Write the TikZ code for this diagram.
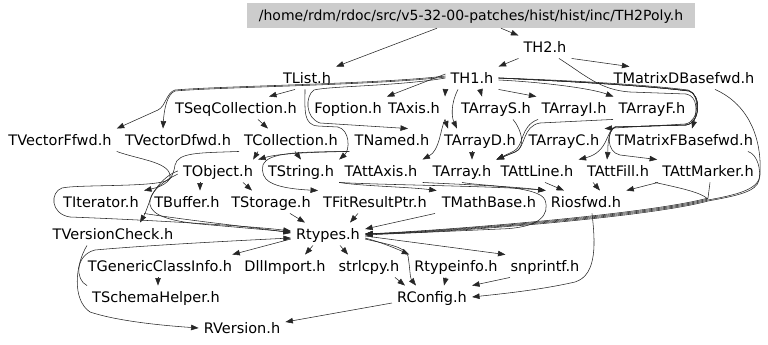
\documentclass[tikz,border=0pt]{standalone}
\usepackage{fontspec}
\setmainfont{DejaVu Sans}
\usetikzlibrary{positioning}
\usetikzlibrary{arrows.meta}

\begin{document}
\begin{tikzpicture}[x=1pt, y=-1pt,
    hdr/.style={inner xsep=5pt, inner ysep=6pt, text height=10.5pt, text depth=0pt,
      font=\fontsize{14.5}{17}\selectfont},
    inc/.style={draw=black!85, line width=.55pt, -{Triangle[length=7.5pt,width=5.5pt]}}]
  \useasboundingbox (0,0) rectangle (768,345);

  % the header itself
  \node[hdr, fill=black!20, minimum width=448pt, minimum height=25pt,
    font=\fontsize{14}{17}\selectfont] (root) at (471,15.5)
    {/home/rdm/rdoc/src/v5-32-00-patches/hist/hist/inc/TH2Poly.h};

  % included headers, row by row
  \node[hdr] (th2)   at (545,47)  {TH2.h};
  \node[hdr] (tlist) at (307,78)  {TList.h};
  \node[hdr] (th1)   at (472,78)  {TH1.h};
  \node[hdr] (tmatd) at (684,78)  {TMatrixDBasefwd.h};

  \node[hdr] (tseq)    at (236,108) {TSeqCollection.h};
  \node[hdr] (foption) at (348,108) {Foption.h};
  \node[hdr] (taxis)   at (414,108) {TAxis.h};
  \node[hdr] (tarrs)   at (496,108) {TArrayS.h};
  \node[hdr] (tarri)   at (574,108) {TArrayI.h};
  \node[hdr] (tarrf)   at (652,108) {TArrayF.h};

  \node[hdr] (tvecf)  at (60,140)  {TVectorFfwd.h};
  \node[hdr] (tvecd)  at (178,140) {TVectorDfwd.h};
  \node[hdr] (tcoll)  at (291,140) {TCollection.h};
  \node[hdr] (tnamed) at (392,140) {TNamed.h};
  \node[hdr] (tarrd)  at (480,140) {TArrayD.h};
  \node[hdr] (tarrc)  at (564,140) {TArrayC.h};
  \node[hdr] (tmatf)  at (684,140) {TMatrixFBasefwd.h};

  \node[hdr] (tobject)    at (218,171) {TObject.h};
  \node[hdr] (tstring)    at (301,171) {TString.h};
  \node[hdr] (tattaxis)   at (381,171) {TAttAxis.h};
  \node[hdr] (tarray)     at (462,171) {TArray.h};
  \node[hdr] (tattline)   at (537,171) {TAttLine.h};
  \node[hdr] (tattfill)   at (618,171) {TAttFill.h};
  \node[hdr] (tattmarker) at (708,171) {TAttMarker.h};

  \node[hdr] (titer)     at (101,202) {TIterator.h};
  \node[hdr] (tbuffer)   at (187,202) {TBuffer.h};
  \node[hdr] (tstorage)  at (271,202) {TStorage.h};
  \node[hdr] (tfitres)   at (375,202) {TFitResultPtr.h};
  \node[hdr] (tmathbase) at (489,202) {TMathBase.h};
  \node[hdr] (riosfwd)   at (586,202) {Riosfwd.h};

  \node[hdr] (tvercheck) at (113,234) {TVersionCheck.h};
  \node[hdr] (rtypes)    at (328,234) {Rtypes.h};

  \node[hdr] (tgeneric)  at (160,266) {TGenericClassInfo.h};
  \node[hdr] (dllimport) at (285,266) {DllImport.h};
  \node[hdr] (strlcpy)   at (369,266) {strlcpy.h};
  \node[hdr] (rtypeinfo) at (456,266) {Rtypeinfo.h};
  \node[hdr] (snprintf)  at (545,266) {snprintf.h};

  \node[hdr] (tschema)  at (156,297) {TSchemaHelper.h};
  \node[hdr] (rconfig)  at (432,297) {RConfig.h};
  \node[hdr] (rversion) at (242,328) {RVersion.h};

  % top levels
  \draw[inc] ([xshift=-34pt]root.south) -- (tlist.north east);
  \draw[inc] ([xshift=30pt]root.south) -- (th2.north west);
  \draw[inc] (th2.south west) -- (th1.north east);
  \draw[inc] (th2.south east) -- ([xshift=21pt]tmatd.north west);
  \draw[inc] ([xshift=14pt]th2.south) .. controls (585,75) and (600,90) .. (630,92)
    -- (686,94) .. controls (698,96) and (697,112) .. ([xshift=8pt]tmatf.north);

  % TH1.h
  \draw[inc] (th1.south west) -- (taxis.north east);
  \draw[inc] ([xshift=8pt]th1.south) -- ([xshift=-14pt]tarrs.north);
  \draw[inc] (th1.south east) -- (tarri.north west);
  \draw[inc] ([yshift=-2pt]th1.east) .. controls (540,82) and (590,88) .. (tarrf.north west);
  \draw[inc] (th1.east) .. controls (560,80) and (640,84) .. (688,90)
    .. controls (700,93) and (700,122) .. (685,124) -- (tarrc.north east);
  \draw[inc] (th1.east) .. controls (560,81) and (640,85) .. (689,91)
    .. controls (701,94) and (701,123) .. (686,125) -- (615,127)
    .. controls (606,130) and (609,152) .. (tattline.north east);
  \draw[inc] (th1.east) .. controls (560,81) and (640,85) .. (689,91)
    .. controls (701,94) and (701,123) .. (686,125) -- (615,127)
    .. controls (607,131) and (608,150) .. ([xshift=-11pt]tattfill.north);
  \draw[inc] (th1.east) .. controls (560,81) and (640,85) .. (689,91)
    .. controls (701,94) and (701,123) .. (686,125) -- (615,127)
    .. controls (607,131) and (606,152) .. (620,155) -- (tattmarker.north west);
  \draw[inc] ([xshift=-14pt]th1.south) .. controls (450,105) and (452,118) .. ([xshift=-23pt]tarrd.north);
  \draw[inc] (taxis.south east) -- ([xshift=-32pt]tarrd.north);
  \draw[inc] ([yshift=4pt]th1.west) -- (foption.north east);
  \draw[inc] ([yshift=2pt]th1.west) .. controls (380,84) and (220,86) .. (175,90)
    .. controls (166,93) and (166,106) .. (158,110) -- (tvecf.north east);
  \draw[inc] ([yshift=1pt]th1.west) .. controls (380,85) and (220,87) .. (175,91)
    .. controls (167,94) and (164,110) .. ([xshift=-15pt]tvecd.north);
  \draw[inc] (th1.west) .. controls (400,86) and (330,86) .. (314,90)
    .. controls (305,96) and (305,118) .. (320,123) -- ([xshift=16pt]tnamed.north);

  % TList.h and the collections
  \draw[inc] ([xshift=-12pt]tlist.south) -- ([xshift=33pt]tseq.north);
  \draw[inc] ([xshift=-2pt]tlist.south) .. controls (305,110) and (303,125) .. (318,126)
    -- (338,127) .. controls (350,130) and (350,150) .. (tstring.north east);
  \draw[inc] ([xshift=22pt]tseq.south) -- ([xshift=-23pt]tcoll.north);
  \draw[inc] ([xshift=-33pt]tcoll.south) -- ([xshift=-5pt]tobject.north east);
  \draw[inc] (tcoll.south west) .. controls (200,153) and (178,152) .. (175,165)
    .. controls (173,180) and (165,186) .. (titer.north east);
  \draw[inc] ([xshift=4pt]tcoll.south) -- (tstring.north);
  \draw[inc] (taxis.south east) .. controls (440,130) and (440,150) .. (tattaxis.north east);
  \draw[inc] (tnamed.south west) .. controls (320,152) and (280,153) .. (tobject.north east);
  \draw[inc] (tnamed.south west) .. controls (300,152) and (268,152) .. (263,165)
    .. controls (260,180) and (270,188) .. (tfitres.north west);

  % TObject.h
  \draw[inc] ([xshift=-18pt]tobject.south) -- ([xshift=13pt]tbuffer.north);
  \draw[inc] ([xshift=25pt]tobject.south) -- ([xshift=-19pt]tstorage.north);
  \draw[inc] (tobject.west) .. controls (168,174) and (158,184) .. (152,195)
    .. controls (148,205) and (146,212) .. ([xshift=27pt]tvercheck.north);
  \draw[inc] ([yshift=-3pt]tobject.west) .. controls (165,180) and (152,190) .. (150,200)
    .. controls (148,212) and (160,220) .. (200,224) -- ([yshift=2pt]rtypes.west);
  \draw[inc] (tvecf.south east) .. controls (140,160) and (172,162) .. (170,178)
    .. controls (168,188) and (80,184) .. (62,188) .. controls (50,192) and (50,214) .. (70,217)
    .. controls (150,220) and (250,226) .. ([yshift=3pt]rtypes.west);
  \draw[inc] (titer.south east) .. controls (200,222) and (260,228) .. ([yshift=1pt]rtypes.west);
  \draw[inc] ([xshift=19pt]tstorage.south) -- ([xshift=-23pt]rtypes.north);
  \draw[inc] ([xshift=-17pt]tfitres.south) -- ([xshift=22pt]rtypes.north);
  \draw[inc] ([xshift=-54pt]tmathbase.south) -- ([yshift=5pt]rtypes.east);

  % TString.h
  \draw[inc] (tstring.south east) .. controls (360,186) and (410,187) .. (tmathbase.north west);
  \draw[inc] (tstring.south east) .. controls (380,185) and (500,186) .. (riosfwd.north west);
  \draw[inc] (tattaxis.south east) .. controls (450,184) and (510,186) .. (riosfwd.north west);

  % arrays
  \draw[inc] ([xshift=-8pt]tarrd.south) -- ([xshift=10pt]tarray.north);
  \draw[inc] ([xshift=17pt]tarrs.south) .. controls (522,130) and (526,148) .. (515,152) -- (tarray.north east);
  \draw[inc] ([xshift=-36pt]tarri.south) .. controls (520,126) and (524,146) .. (514,151) -- (tarray.north east);
  \draw[inc] ([xshift=-39pt]tarrf.south) -- (540,123) .. controls (522,126) and (526,148) .. (515,152) -- (tarray.north east);
  \draw[inc] (tarray.south) .. controls (480,186) and (540,186) .. (545,200)
    .. controls (550,215) and (540,228) .. (500,229) -- ([yshift=-1pt]rtypes.east);

  % attributes
  \draw[inc] ([xshift=8pt]tattline.south) -- ([xshift=-22pt]riosfwd.north);
  \draw[inc] ([xshift=-25pt]tattfill.south) -- ([xshift=14pt]riosfwd.north);
  \draw[inc] ([xshift=-50pt]tattmarker.south) -- (riosfwd.north east);
  \draw[inc] ([xshift=2pt]tattmarker.south) -- (708,198)
    .. controls (650,214) and (450,230) .. (rtypes.east);
  \draw[inc] ([xshift=37pt]tattfill.south) .. controls (680,188) and (700,192) .. (708,199)
    .. controls (650,215) and (450,231) .. (rtypes.east);
  \draw[inc] ([xshift=31pt]tmatd.south) .. controls (750,105) and (762,140) .. (760,175)
    .. controls (759,190) and (735,195) .. (708,200) .. controls (650,216) and (450,232) .. (rtypes.east);
  \draw[inc] ([xshift=64pt]tmatf.south) .. controls (758,155) and (761,170) .. (759,180)
    .. controls (757,192) and (735,196) .. (708,201) .. controls (650,217) and (450,233) .. (rtypes.east);

  % Rtypes.h and below
  \draw[inc] ([yshift=-5pt]rtypes.west) -- ([xshift=-5pt]tgeneric.north east);
  \draw[inc] ([xshift=-15pt]rtypes.south) -- ([xshift=20pt]dllimport.north);
  \draw[inc] ([xshift=12pt]rtypes.south) -- ([xshift=-21pt]strlcpy.north);
  \draw[inc] ([yshift=-4pt]rtypes.east) .. controls (380,242) and (395,248) .. (rtypeinfo.north west);
  \draw[inc] ([yshift=-5pt]rtypes.east) .. controls (385,244) and (405,246) .. (408,256)
    .. controls (410,268) and (410,278) .. ([xshift=-16pt]rconfig.north);
  \draw[inc] ([yshift=-2pt]rtypes.east) -- (snprintf.north west);
  \draw[inc] ([xshift=26pt]strlcpy.south) -- ([xshift=-27pt]rconfig.north);
  \draw[inc] ([xshift=-10pt]rtypeinfo.south) -- ([xshift=12pt]rconfig.north);
  \draw[inc] ([xshift=-35pt]snprintf.south) -- (rconfig.north east);
  \draw[inc] ([xshift=6pt]riosfwd.south) .. controls (595,240) and (598,275) .. (575,282)
    .. controls (540,290) and (500,294) .. (rconfig.east);
  \draw[inc] ([yshift=-6pt]rconfig.west) -- ([yshift=6pt]rversion.east);
  \draw[inc] ([xshift=-26pt]tvercheck.south) .. controls (75,265) and (72,300) .. (90,312)
    .. controls (120,322) and (170,326) .. (rversion.west);
  \draw[inc] ([xshift=-2pt]tgeneric.south) -- ([xshift=2pt]tschema.north);
  \draw[inc] (tschema.north west) .. controls (75,280) and (75,255) .. (95,250)
    .. controls (150,245) and (250,240) .. ([yshift=-4pt]rtypes.west);
\end{tikzpicture}
\end{document}
